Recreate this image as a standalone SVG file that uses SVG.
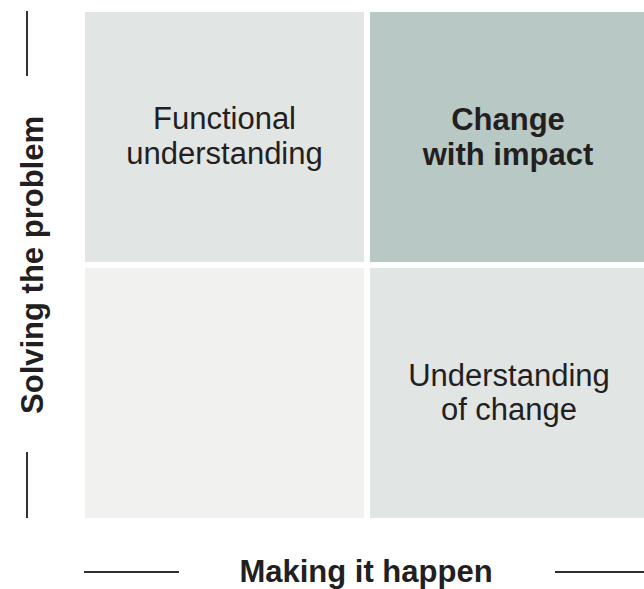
<svg xmlns="http://www.w3.org/2000/svg" width="644" height="589" viewBox="0 0 644 589">
  <style>
    .cell-text { font-family: "Liberation Sans", Arial, sans-serif; font-size: 31px; fill: #231f20; text-anchor: middle; }
    .bold { font-weight: bold; }
    .axis-text { font-family: "Liberation Sans", Arial, sans-serif; font-size: 31px; font-weight: bold; fill: #231f20; text-anchor: middle; }
    .rule { stroke: #2e3436; stroke-width: 2; fill: none; }
  </style>
  <rect width="644" height="589" fill="#ffffff"/>

  <!-- quadrant cells -->
  <g id="functional-understanding">
    <rect x="85" y="12" width="279" height="250" fill="#e1e5e4"/>
    <text class="cell-text" x="224.5" y="129">Functional</text>
    <text class="cell-text" x="224.5" y="164">understanding</text>
  </g>
  <g id="change-with-impact">
    <rect x="370" y="12" width="274" height="250" fill="#b8c8c4"/>
    <text class="cell-text bold" x="508" y="130">Change</text>
    <text class="cell-text bold" x="508" y="165">with impact</text>
  </g>
  <g id="empty-quadrant">
    <rect x="85" y="268" width="279" height="250" fill="#f1f1ef"/>
  </g>
  <g id="understanding-of-change">
    <rect x="370" y="268" width="274" height="250" fill="#e1e5e4"/>
    <text class="cell-text" x="509" y="386">Understanding</text>
    <text class="cell-text" x="509" y="420">of change</text>
  </g>

  <!-- axis rules -->
  <g id="axis-rules">
    <line class="rule" x1="27" y1="11" x2="27" y2="76"/>
    <line class="rule" x1="27" y1="452" x2="27" y2="518"/>
    <line class="rule" x1="84" y1="572" x2="179" y2="572"/>
    <line class="rule" x1="555" y1="572" x2="644" y2="572"/>
  </g>

  <!-- axis labels -->
  <g id="axis-y">
    <text class="axis-text" transform="translate(43,265) rotate(-90)">Solving the problem</text>
  </g>
  <g id="axis-x">
    <text class="axis-text" x="366" y="582">Making it happen</text>
  </g>
</svg>
